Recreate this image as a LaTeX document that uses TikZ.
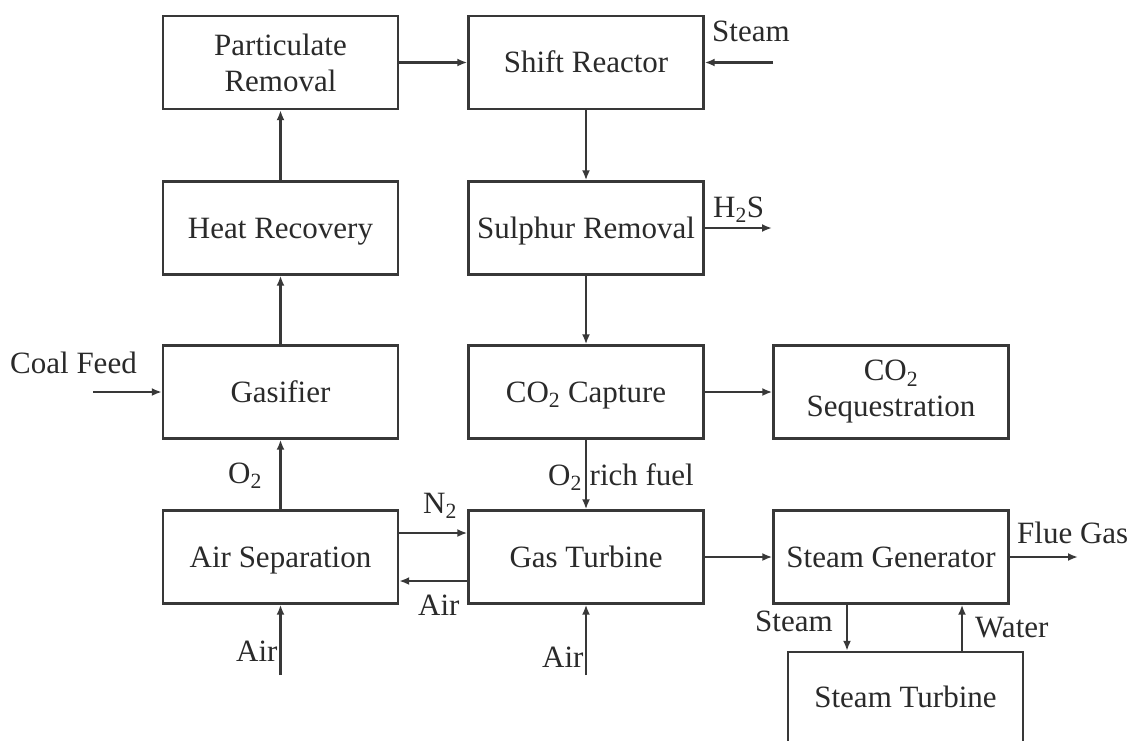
\documentclass[tikz,border=0pt]{standalone}
\usepackage{fontspec}
\setmainfont{Liberation Serif}
\usetikzlibrary{arrows.meta}
\definecolor{linec}{HTML}{383838}
\definecolor{txtc}{HTML}{2A2A2A}
\newcommand{\subtwo}{\smash{\textsubscript{2}}}
\begin{document}
\begin{tikzpicture}[x=1pt,y=-1pt,
  blk/.style={draw=linec, line width=2.4pt, minimum width=235pt, minimum height=93pt, inner sep=0pt, align=center, font=\fontsize{31}{36}\selectfont, text=txtc},
  one/.style={blk, text height=21pt, text depth=1pt},
  lbl/.style={font=\fontsize{31}{36}\selectfont, text=txtc, inner sep=0pt},
  flow/.style={draw=linec, line width=2.4pt, -{Latex[length=10pt,width=8pt]}}]
\useasboundingbox (0,0) rectangle (1134,740);
\clip (0,0) rectangle (1134,740);
\fill[white] (0,0) rectangle (1134,740);
% blocks
\node[blk] (pr) at (280.5,62.5) {Particulate\\Removal};
\node[one] (sr) at (586,62.5) {Shift Reactor};
\node[one] (hr) at (280.5,228) {Heat Recovery};
\node[one] (sul) at (586,228) {Sulphur Removal};
\node[one] (gas) at (280.5,392) {Gasifier};
\node[one] (cc) at (586,392) {CO\subtwo{} Capture};
\node[blk] (cs) at (891,392) {CO\subtwo\\Sequestration};
\node[one] (as) at (280.5,557) {Air Separation};
\node[one] (gt) at (586,557) {Gas Turbine};
\node[one] (sg) at (891,557) {Steam Generator};
\node[one, minimum height=90pt] (st) at (905.5,697) {Steam Turbine};
% free ends
\coordinate (coal) at (93,392);
\coordinate (steamin) at (773,62.5);
\coordinate (h2s) at (772,228);
\coordinate (flue) at (1078,557);
\coordinate (airas) at (280.5,675);
\coordinate (airgt) at (586,675);
% connectors
\draw[flow] (gas) -- (hr);
\draw[flow] (hr) -- (pr);
\draw[flow] (pr) -- (sr);
\draw[flow] (steamin) -- (sr);
\draw[flow] (sr) -- (sul);
\draw[flow] (sul) -- (h2s);
\draw[flow] (sul) -- (cc);
\draw[flow] (cc) -- (cs);
\draw[flow] (coal) -- (gas);
\draw[flow] (as) -- (gas);
\draw[flow] (cc) -- (gt);
\draw[flow] ([yshift=24pt]as.east) -- ([yshift=24pt]gt.west);
\draw[flow] ([yshift=-24pt]gt.west) -- ([yshift=-24pt]as.east);
\draw[flow] (gt) -- (sg);
\draw[flow] (sg) -- (flue);
\draw[flow] (airas) -- (as);
\draw[flow] (airgt) -- (gt);
\draw[flow] ([xshift=-44pt]sg.south) -- ([xshift=-44pt]sg.south |- st.north);
\draw[flow] ([xshift=71pt]sg.south |- st.north) -- ([xshift=71pt]sg.south);
% labels
\node[lbl, anchor=base west] (lcoal) at (10,373) {Coal Feed};
\node[lbl, anchor=base west] (lo2) at (228,483) {O\textsubscript{2}};
\node[lbl, anchor=base west] (ln2) at (423,513) {N\textsubscript{2}};
\node[lbl, anchor=base west] (lairl) at (418,615) {Air};
\node[lbl, anchor=base west] (lfuel) at (548,485) {O\textsubscript{2} rich fuel};
\node[lbl, anchor=base west] (lsteam1) at (712,41) {Steam};
\node[lbl, anchor=base west] (lh2s) at (713,217) {H\textsubscript{2}S};
\node[lbl, anchor=base west] (lflue) at (1017,543) {Flue Gas};
\node[lbl, anchor=base west] (lsteam2) at (755,631) {Steam};
\node[lbl, anchor=base west] (lwater) at (975,637) {Water};
\node[lbl, anchor=base west] (lairas) at (236,661) {Air};
\node[lbl, anchor=base west] (lairgt) at (542,667) {Air};
\end{tikzpicture}
\end{document}
